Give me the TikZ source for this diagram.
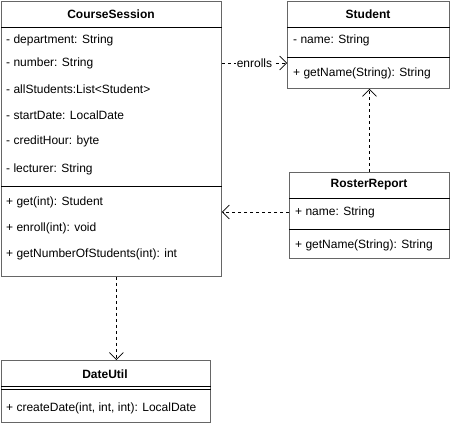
\documentclass[tikz,border=0pt]{standalone}
\usepackage{fontspec}
\setmainfont{Liberation Sans}
\usetikzlibrary{arrows.meta, positioning, calc}
\definecolor{UmlGray}{HTML}{666666}
\definecolor{UmlBlack}{HTML}{000000}
\tikzset{
    % Class boxes - outer frame and compartments
    classbox/.style={
        rectangle,
        draw=UmlGray,
        fill=white,
        line width=0.9pt,
        anchor=north west,
        inner sep=0pt
    },
    classname/.style={
        font=\fontsize{12}{14}\selectfont\bfseries,
        inner sep=0pt
    },
    member/.style={
        font=\fontsize{12}{14}\selectfont,
        anchor=west,
        inner sep=0pt
    },
    divider/.style={
        draw=UmlBlack,
        line width=0.9pt
    },
    % Dependency arrow - dashed, open head
    deparrow/.style={
        ->,
        >={Straight Barb[length=7pt, width=14pt]},
        line width=0.7pt,
        draw=UmlBlack,
        dash pattern=on 3pt off 3pt
    }
}

\begin{document}
\begin{tikzpicture}[x=1pt, y=-1pt]
    \useasboundingbox (0,0) rectangle (450,425);

    % CourseSession
    \node[classbox, minimum width=220pt, minimum height=275pt] (cs) at (1,1) {};
    \node[classname] (csname) at (111,14) {CourseSession};
    \draw[divider] ($(cs.north west)+(0,26)$) -- ($(cs.north east)+(0,26)$);
    \node[member] (cs1) at (6,40) {- department: String};
    \node[member] (cs2) at (6,63) {- number: String};
    \node[member] (cs3) at (6,89) {- allStudents:List<Student>};
    \node[member] (cs4) at (6,115) {- startDate: LocalDate};
    \node[member] (cs5) at (6,141) {- creditHour: byte};
    \node[member] (cs6) at (6,169) {- lecturer: String};
    \draw[divider] ($(cs.north west)+(0,185)$) -- ($(cs.north east)+(0,185)$);
    \node[member] (cs7) at (6,202) {+ get(int): Student};
    \node[member] (cs8) at (6,228) {+ enroll(int): void};
    \node[member] (cs9) at (6,254) {+ getNumberOfStudents(int): int};

    % Student
    \node[classbox, minimum width=162pt, minimum height=87pt] (st) at (287,1) {};
    \node[classname] (stname) at (368,14) {Student};
    \draw[divider] ($(st.north west)+(0,26)$) -- ($(st.north east)+(0,26)$);
    \node[member] (st1) at (293,40) {- name: String};
    \draw[divider] ($(st.north west)+(0,56)$) -- ($(st.north east)+(0,56)$);
    \node[member] (st2) at (293,73) {+ getName(String): String};

    % RosterReport
    \node[classbox, minimum width=160pt, minimum height=86pt] (rr) at (289,172) {};
    \node[classname] (rrname) at (369,185) {RosterReport};
    \draw[divider] ($(rr.north west)+(0,26)$) -- ($(rr.north east)+(0,26)$);
    \node[member] (rr1) at (295,212) {+ name: String};
    \draw[divider] ($(rr.north west)+(0,57)$) -- ($(rr.north east)+(0,57)$);
    \node[member] (rr2) at (295,245) {+ getName(String): String};

    % DateUtil
    \node[classbox, minimum width=209pt, minimum height=62pt] (du) at (1,360) {};
    \node[classname] (duname) at (105,374) {DateUtil};
    \draw[divider] ($(du.north west)+(0,26)$) -- ($(du.north east)+(0,26)$);
    \draw[divider] ($(du.north west)+(0,29.5)$) -- ($(du.north east)+(0,29.5)$);
    \node[member] (du1) at (6,408) {+ createDate(int, int, int): LocalDate};

    % Dependencies
    \draw[deparrow] (cs.east |- cs2.west) -- node[fill=white, inner sep=1pt, font=\fontsize{12}{14}\selectfont] (enr) {enrolls} (st.west |- cs2.west);
    \draw[deparrow] (rr.north) -- (rr.north |- st.south);
    \draw[deparrow] (rr.west |- rr1.west) -- (cs.east |- rr1.west);
    \draw[deparrow] ($(cs.south)+(5,0)$) coordinate (csfoot) -- (du.north -| csfoot);
\end{tikzpicture}
\end{document}
